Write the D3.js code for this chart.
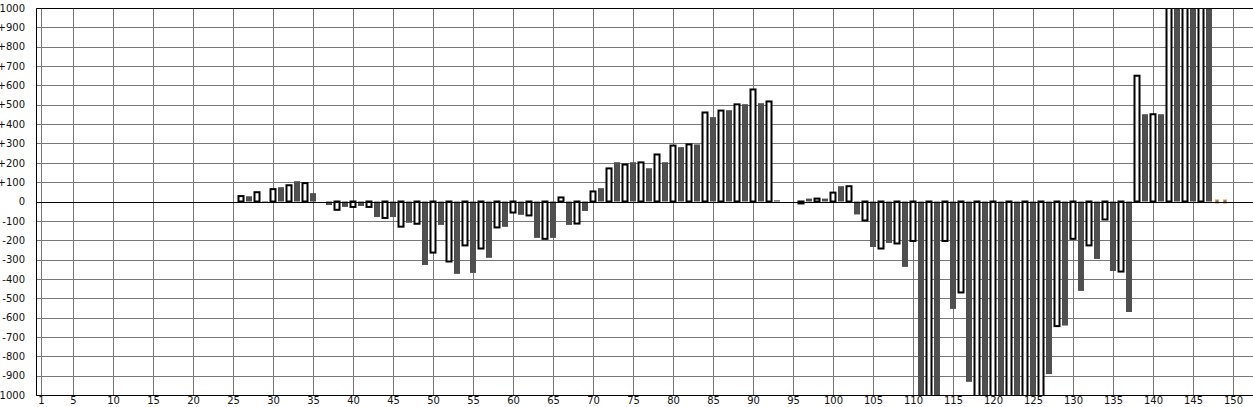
<!DOCTYPE html>
<html>
<head>
<meta charset="utf-8">
<script src="https://cdn.jsdelivr.net/npm/d3@7"></script>
<style>
	html, body { margin: 0; padding: 0; background: #fff; overflow: hidden; }
	svg { display: block; }
	text { font-family: "DejaVu Sans", Verdana, sans-serif; font-size: 10px; fill: #111; }
</style>
</head>
<body>
<div id="chart"></div>
<script>
var width = 1253,
	height = 407;

// categories 1..149 (one bar per category)
var categories = [
	1,2,3,4,5,6,7,8,9,10,11,12,13,14,15,16,17,18,19,20,21,22,23,24,25,
	26,27,28,29,30,31,32,33,34,35,36,37,38,39,40,41,42,43,44,45,46,47,48,49,50,
	51,52,53,54,55,56,57,58,59,60,61,62,63,64,65,66,67,68,69,70,71,72,73,74,75,
	76,77,78,79,80,81,82,83,84,85,86,87,88,89,90,91,92,93,94,95,96,97,98,99,100,
	101,102,103,104,105,106,107,108,109,110,111,112,113,114,115,116,117,118,119,120,
	121,122,123,124,125,126,127,128,129,130,131,132,133,134,135,136,137,138,139,140,
	141,142,143,144,145,146,147,148,149
];

var values = [
	0,0,0,0,0,0,0,0,0,0,0,0,0,0,0,0,0,0,0,0,0,0,0,0,0,
	28,27,48,-7,64,74,84,105,95,43,0,-18,-43,-28,-28,-23,-28,-80,-85,-80,-130,-110,-115,-328,-264,
	-121,-310,-374,-227,-369,-243,-291,-134,-131,-57,-69,-72,-188,-193,-188,21,-121,-114,-49,52,69,171,203,191,203,
	202,172,243,203,289,281,295,295,460,436,470,472,502,503,579,508,517,6,0,0,-10,15,15,15,46,
	79,79,-67,-98,-235,-243,-214,-217,-338,-204,-1100,-1100,-1100,-204,-555,-470,-932,-1100,-1100,-1100,
	-1100,-1100,-1100,-1100,-1100,-1100,-892,-644,-641,-193,-462,-227,-297,-93,-359,-362,-571,650,451,451,
	451,1100,1100,1100,1100,1100,1100,0,0
];

// small markers sitting on the zero line
var markers = [148, 149];

var yTicks = [-1000,-900,-800,-700,-600,-500,-400,-300,-200,-100,0,100,200,300,400,500,600,700,800,900,1000];
var xTicks = [1,5,10,15,20,25,30,35,40,45,50,55,60,65,70,75,80,85,90,95,100,105,110,115,120,125,130,135,140,145,150];

var data = categories.map(function(c, i) {
	return { cat: c, value: values[i] };
});

var plotLeft = 36,
	plotTop = 8,
	plotBottom = 395,
	plotRight = width;

var svg = d3.select('#chart').append('svg')
	.attr('width', width)
	.attr('height', height);

var x = d3.scaleLinear()
	.domain([1, 150])
	.range([41, 1233]);

var y = d3.scaleLinear()
	.domain([-1000, 1000])
	.range([plotBottom, plotTop]);

svg.append('clipPath')
	.attr('id', 'plot-clip')
	.append('rect')
	.attr('x', plotLeft)
	.attr('y', plotTop)
	.attr('width', plotRight - plotLeft)
	.attr('height', plotBottom - plotTop);

// grid
var grid = svg.append('g').attr('class', 'grid');

grid.selectAll('line.h')
	.data(yTicks)
	.enter()
	.append('line')
	.attr('x1', plotLeft)
	.attr('x2', plotRight)
	.attr('y1', function(d) { return Math.round(y(d)) + 0.5; })
	.attr('y2', function(d) { return Math.round(y(d)) + 0.5; })
	.style('stroke', '#777')
	.style('stroke-width', 1);

grid.selectAll('line.v')
	.data(xTicks)
	.enter()
	.append('line')
	.attr('x1', function(d) { return Math.round(x(d)) + 0.5; })
	.attr('x2', function(d) { return Math.round(x(d)) + 0.5; })
	.attr('y1', plotTop)
	.attr('y2', plotBottom)
	.style('stroke', '#777')
	.style('stroke-width', 1);

// bars
var bars = svg.append('g')
	.attr('clip-path', 'url(#plot-clip)');

bars.selectAll('rect.bar')
	.data(data.filter(function(d) { return d.value !== 0; }))
	.enter()
	.append('rect')
	.attr('class', 'bar')
	.each(function(d) {
		var sel = d3.select(this),
			top = y(Math.max(0, d.value)),
			bot = y(Math.min(0, d.value)),
			cx = x(d.cat);
		if (d.cat % 2 === 0) {
			sel.attr('x', cx - 2.5)
				.attr('width', 5)
				.attr('y', top)
				.attr('height', bot - top)
				.style('fill', '#fff')
				.style('stroke', '#000')
				.style('stroke-width', 2);
		} else {
			sel.attr('x', cx - 3)
				.attr('width', 6)
				.attr('y', top)
				.attr('height', bot - top)
				.style('fill', '#4f4f4f');
		}
	});

// zero-line markers
var mk = svg.append('g');
mk.selectAll('rect.mo')
	.data(markers)
	.enter()
	.append('rect')
	.attr('x', function(d) { return x(d) - 2; })
	.attr('y', y(0) - 2)
	.attr('width', 4)
	.attr('height', 4)
	.style('fill', '#e39a3c');
mk.selectAll('rect.mb')
	.data(markers)
	.enter()
	.append('rect')
	.attr('x', function(d) { return x(d) - 1; })
	.attr('y', y(0) - 1)
	.attr('width', 2)
	.attr('height', 2)
	.style('fill', '#3b7fc4');

// zero line and border
svg.append('line')
	.attr('x1', plotLeft).attr('x2', plotRight)
	.attr('y1', Math.round(y(0)) + 0.5).attr('y2', Math.round(y(0)) + 0.5)
	.style('stroke', '#000');

svg.append('path')
	.attr('d', 'M' + plotRight + ',' + (plotTop + 0.5) + 'H' + (plotLeft + 0.5) + 'V' + (plotBottom + 0.5) + 'H' + plotRight)
	.style('fill', 'none')
	.style('stroke', '#000')
	.style('stroke-width', 1);

// axes labels
var yAxis = d3.axisLeft(y)
	.tickValues(yTicks)
	.tickSize(0)
	.tickPadding(11)
	.tickFormat(function(d) { return d > 0 ? '+' + d : String(d); });

var gy = svg.append('g')
	.attr('transform', 'translate(' + plotLeft + ',0)')
	.call(yAxis);
gy.select('.domain').remove();
gy.selectAll('text')
	.attr('font-family', null)
	.attr('font-size', null);

var xAxis = d3.axisBottom(x)
	.tickValues(xTicks)
	.tickSize(0)
	.tickPadding(2);

var gx = svg.append('g')
	.attr('transform', 'translate(0,' + plotBottom + ')')
	.call(xAxis);
gx.select('.domain').remove();
gx.selectAll('text')
	.attr('font-family', null)
	.attr('font-size', null);
</script>
</body>
</html>
